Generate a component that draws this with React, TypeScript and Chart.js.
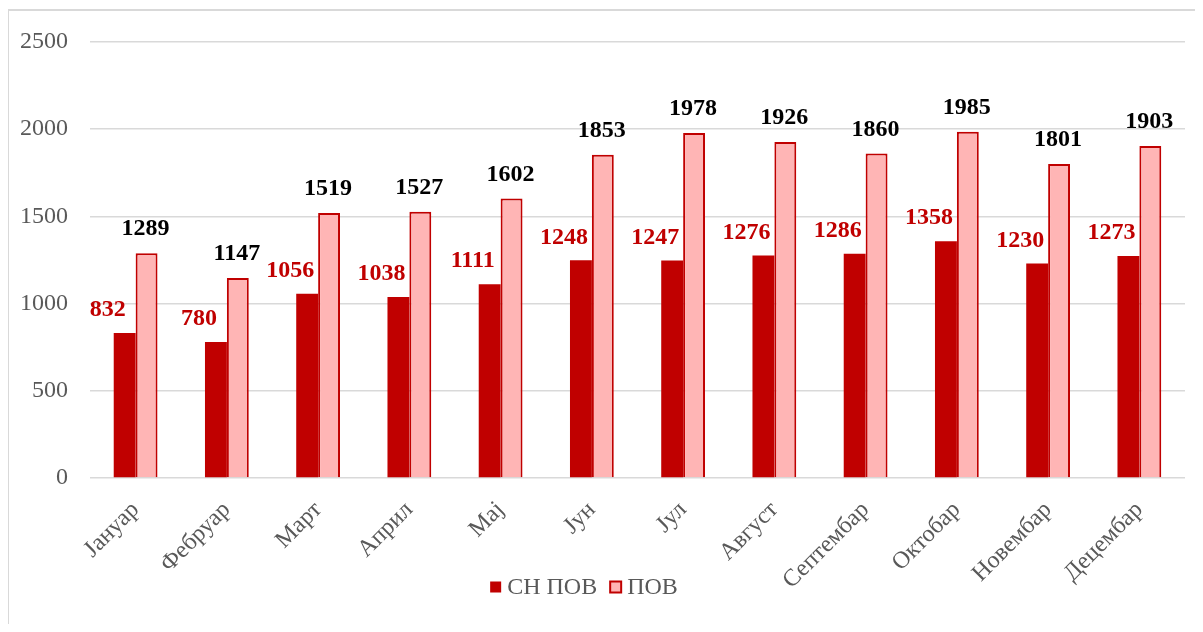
import React, { useEffect, useRef } from "react";
import { Chart, registerables } from "chart.js";

Chart.register(...registerables);

const categories = ["Јануар", "Фебруар", "Март", "Април", "Мај", "Јун", "Јул", "Август", "Септембар", "Октобар", "Новембар", "Децембар"];
const snPovValues = [832, 780, 1056, 1038, 1111, 1248, 1247, 1276, 1286, 1358, 1230, 1273];
const povValues = [1289, 1147, 1519, 1527, 1602, 1853, 1978, 1926, 1860, 1985, 1801, 1903];
const seriesNames = ["СН ПОВ", "ПОВ"];

const FONT = "'Liberation Serif', 'Times New Roman', serif";

const labelPlugin = {
  id: "barLabels",
  afterDatasetsDraw(chart: any) {
    const ctx = chart.ctx;
    ctx.save();
    ctx.font = `bold 24px ${FONT}`;
    ctx.textAlign = "center";
    ctx.textBaseline = "middle";
    chart.data.datasets.forEach((ds: any, di: number) => {
      const meta = chart.getDatasetMeta(di);
      meta.data.forEach((el: any, i: number) => {
        const v = ds.data[i];
        if (di === 0) {
          ctx.fillStyle = "#C00000";
          ctx.fillText(String(v), el.x - 17, el.y - 23);
        } else {
          ctx.fillStyle = "#000000";
          ctx.fillText(String(v), el.x - 1, el.y - 24);
        }
      });
    });
    ctx.restore();
  },
};

const legendPlugin = {
  id: "customLegend",
  afterDraw(chart: any) {
    const ctx = chart.ctx;
    ctx.save();
    ctx.font = `24px ${FONT}`;
    ctx.textBaseline = "middle";
    ctx.textAlign = "left";
    const ds = chart.data.datasets;
    const box = 11;
    const gapBoxText = 6;
    const gapItems = 13;
    const widths = ds.map((d: any) => ctx.measureText(d.label).width);
    const total = box + gapBoxText + widths[0] + gapItems + box + gapBoxText + widths[1];
    let x = 575 - total / 2;
    const cy = 576;
    ds.forEach((d: any, i: number) => {
      ctx.fillStyle = d.backgroundColor;
      ctx.fillRect(x, cy - box / 2, box, box);
      if (i === 1) {
        ctx.strokeStyle = d.borderColor;
        ctx.lineWidth = 2;
        ctx.strokeRect(x, cy - box / 2, box, box);
      }
      x += box + gapBoxText;
      ctx.fillStyle = "#595959";
      ctx.fillText(d.label, x, cy + 1);
      x += widths[i] + gapItems;
    });
    ctx.restore();
  },
};

export default function App() {
  const ref = useRef<HTMLCanvasElement | null>(null);
  useEffect(() => {
    if (!ref.current) return;
    const chart = new Chart(ref.current, {
      type: "bar",
      data: {
        labels: categories,
        datasets: [
          {
            label: seriesNames[0],
            data: snPovValues,
            backgroundColor: "#C00000",
            borderColor: "#C00000",
            borderWidth: 0,
            categoryPercentage: 0.48,
            barPercentage: 1,
          },
          {
            label: seriesNames[1],
            data: povValues,
            backgroundColor: "#FFB5B5",
            borderColor: "#C00000",
            borderWidth: 2,
            categoryPercentage: 0.48,
            barPercentage: 1,
          },
        ],
      },
      options: {
        animation: false,
        responsive: false,
        maintainAspectRatio: false,
        layout: { padding: { left: 0, right: 9, top: 31, bottom: 27 } },
        plugins: {
          legend: { display: false },
          tooltip: { enabled: false },
        },
        scales: {
          x: {
            grid: { display: false },
            border: { display: false },
            ticks: {
              font: { family: FONT, size: 24 },
              color: "#595959",
              minRotation: 45,
              maxRotation: 45,
              padding: 10,
            },
            afterFit(scale: any) {
              scale.height = 120;
              scale.paddingTop = 0;
              scale.paddingBottom = 0;
              scale.paddingLeft = 0;
              scale.paddingRight = 0;
            },
          },
          y: {
            min: 0,
            max: 2500,
            border: { display: false },
            grid: { color: "#d9d9d9", lineWidth: 1.5, drawTicks: false },
            ticks: {
              stepSize: 500,
              font: { family: FONT, size: 24 },
              color: "#595959",
              padding: 22,
              callback: (v: any) => String(v),
            },
            afterFit(scale: any) {
              scale.width = 81;
              scale.paddingTop = 0;
              scale.paddingBottom = 0;
              scale.paddingLeft = 0;
              scale.paddingRight = 0;
            },
          },
        },
      },
      plugins: [labelPlugin, legendPlugin],
    });
    return () => chart.destroy();
  }, []);
  return (
    <div
      style={{
        position: "relative",
        top: 1,
        left: -1,
        width: 1196,
        height: 616,
        boxSizing: "border-box",
        borderTop: "2px solid #d9d9d9",
        borderLeft: "2px solid #d9d9d9",
        background: "#fff",
      }}
    >
      <canvas ref={ref} width={1185} height={614} style={{ display: "block" }} />
    </div>
  );
}
